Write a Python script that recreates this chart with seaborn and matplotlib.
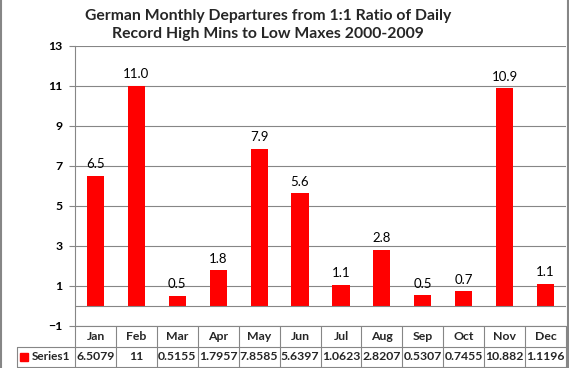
import pandas as pd
import seaborn as sns
import matplotlib.pyplot as plt
from matplotlib.lines import Line2D

# chart data
months = ['Jan', 'Feb', 'Mar', 'Apr', 'May', 'Jun',
          'Jul', 'Aug', 'Sep', 'Oct', 'Nov', 'Dec']
values = [6.5079, 11, 0.5155, 1.7957, 7.8585, 5.6397,
          1.0623, 2.8207, 0.5307, 0.7455, 10.882, 1.1196]
series_name = 'Series1'
yticks = [-1, 1, 3, 5, 7, 9, 11, 13]
title = ('German Monthly Departures from 1:1 Ratio of Daily\n'
         'Record High Mins to Low Maxes 2000-2009')

df = pd.DataFrame({'month': months, 'value': values})

sns.set_theme(style='white')
plt.rcParams['font.family'] = ['Lato', 'DejaVu Sans']

RED = '#ff0000'
GREY = '#868686'
W, H = 569, 368
FS = 8.8


def fx(px):
    return px / W


def fy(py):
    return 1 - py / H


fig = plt.figure(figsize=(W / 100, H / 100), dpi=100)

# main plot area
ax = fig.add_axes([fx(75), fy(326), fx(566) - fx(75), fy(46) - fy(326)])
sns.barplot(data=df, x='month', y='value', color=RED, saturation=1,
            width=0.42, linewidth=0, ax=ax)

ax.set_xlim(-0.5, 11.5)
ax.set_ylim(-1, 13)
ax.set_yticks(yticks)
ax.set_xticks([])
ax.set_xlabel('')
ax.set_ylabel('')
ax.yaxis.grid(True, color=GREY, lw=0.8)
ax.set_axisbelow(True)
ax.axhline(0, color=GREY, lw=0.8, zorder=1)
for side in ['top', 'right']:
    ax.spines[side].set_visible(False)
for side in ['left', 'bottom']:
    ax.spines[side].set_color(GREY)
    ax.spines[side].set_linewidth(0.8)
ax.tick_params(axis='y', left=True, length=4, width=0.8, color=GREY,
               pad=5, labelsize=FS, labelcolor='black')
for lab in ax.get_yticklabels():
    lab.set_fontweight('bold')

ax.bar_label(ax.containers[0], labels=[f'{v:.1f}' for v in values],
             padding=4, fontsize=9.5, color='black')

fig.text(fx(268), fy(25), title, ha='center', va='center',
         multialignment='center', fontsize=11.3, fontweight='bold',
         linespacing=1.35)

# data table below the plot
tab = fig.add_axes([fx(75), fy(367), fx(566) - fx(75), fy(326) - fy(367)])
tab.set_xlim(-0.5, 11.5)
tab.set_ylim(0, 2)
tab.axis('off')
col_w = (566 - 75) / 12
left_edge = -0.5 - (75 - 17) / col_w
for k in range(13):
    tab.plot([k - 0.5, k - 0.5], [0, 2], color=GREY, lw=0.8, clip_on=False)
for yy in [0, 1]:
    tab.plot([left_edge, 11.5], [yy, yy], color=GREY, lw=0.8, clip_on=False)
tab.plot([left_edge, left_edge], [0, 1], color=GREY, lw=0.8, clip_on=False)

for i, (m, v) in enumerate(zip(months, values)):
    tab.text(i, 1.5, m, ha='center', va='center', fontsize=FS,
             fontweight='bold')
    tab.text(i, 0.5, f'{v:g}', ha='center', va='center', fontsize=FS,
             fontweight='bold')

tab.plot([-0.5 - (75 - 24) / col_w], [0.5], marker='s', ms=5.5, color=RED,
         clip_on=False)
tab.text(-0.5 - (75 - 31.5) / col_w, 0.5, series_name, ha='left', va='center',
         fontsize=FS - 0.3, fontweight='bold')

# chart border
fig.add_artist(Line2D([fx(1), fx(1)], [0, 1], color=GREY, lw=1.5))
fig.add_artist(Line2D([fx(568), fx(568)], [0, 1], color=GREY, lw=1.5))

fig.savefig('out.png', dpi=100)
